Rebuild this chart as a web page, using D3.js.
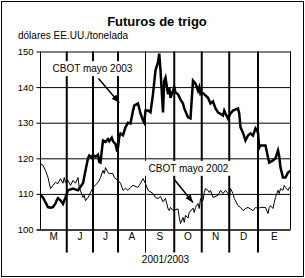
<!DOCTYPE html>
<html lang="es">
<head>
<meta charset="UTF-8">
<title>Futuros de trigo</title>
<script src="https://d3js.org/d3.v7.min.js"></script>
<style>
    body { margin: 0; padding: 0; background: #fff; }
    svg text { font-family: Arial, "Liberation Sans", sans-serif; fill: #000; }
</style>
</head>
<body>
<svg id="chart"></svg>
<script>
// eje y (dólares por tonelada)
const yTicks = [100, 110, 120, 130, 140, 150];

// meses, mayo 2002 - enero 2003; inicio de cada mes en días de operación
const months = ["M", "J", "J", "A", "S", "O", "N", "D", "E"];
const monthStarts = [0, 21, 42, 62, 84, 107, 129, 151, 174, 200];

// CBOT mayo 2003 (línea gruesa)
const days2003 = [0, 2, 4, 6, 8, 10, 12, 13, 14, 16, 18, 20, 21, 22, 26, 30, 32, 34, 36, 38,
    39, 41, 42, 44, 46, 47, 48, 49, 50, 52, 54, 55, 57, 58, 60, 61, 62, 63, 64, 66,
    68, 70, 72, 74, 75, 78, 80, 82, 83, 84, 86, 88, 90, 92, 94, 95, 96, 98, 99, 100,
    102, 103, 104, 106, 107, 108, 110, 112, 114, 115, 118, 120, 122, 124, 126, 127, 128, 130, 134, 136,
    138, 140, 142, 146, 147, 148, 150, 152, 154, 158, 159, 160, 162, 164, 166, 168, 170, 172, 174, 175,
    176, 180, 182, 183, 186, 188, 190, 191, 192, 194, 196, 198, 200];
const vals2003 = [109.6, 109, 107.6, 106.3, 106.1, 106.3, 107.3, 108.2, 108.8, 108.2, 107.2, 109, 110, 111, 111.5, 111, 112, 113, 116.6, 120,
    120.8, 120.2, 121, 120.4, 121, 119, 118.8, 122, 125, 124.6, 125.4, 124.8, 125.8, 124.8, 124, 122.5, 123, 126, 127, 126.5,
    128.7, 130, 129.8, 133.4, 134.8, 135.4, 132.6, 130.6, 130, 133.4, 133.4, 132.9, 138, 144.7, 147, 149.4, 144.7, 132.9, 141.8, 142.7,
    138, 140, 137, 139, 140, 138.5, 138, 136.5, 135.4, 134, 131.5, 131.2, 141.8, 141, 139, 140, 138, 138.3, 137, 135.4,
    136, 134, 132.9, 132, 133.4, 132.6, 131.2, 132.6, 133.4, 134, 132.6, 128.7, 127.2, 125, 126.4, 127, 126.4, 128.4, 127.2, 123,
    123.6, 123.6, 120.2, 118.8, 119.4, 120, 122.2, 120.5, 117.4, 114.6, 114.6, 116, 116.5];

// CBOT mayo 2002 (línea fina)
const days2002 = [0, 2, 4, 6, 7, 8, 10, 12, 14, 16, 18, 19, 20, 22, 24, 26, 28, 30, 31, 34,
    35, 36, 38, 39, 40, 42, 46, 48, 50, 51, 52, 54, 55, 58, 59, 62, 64, 66, 68, 70,
    72, 74, 78, 80, 82, 84, 86, 90, 92, 94, 96, 98, 100, 102, 103, 104, 106, 110, 111, 112,
    114, 115, 116, 118, 119, 122, 123, 124, 126, 127, 128, 130, 131, 132, 134, 135, 136, 138, 142, 144,
    146, 148, 150, 151, 152, 154, 155, 158, 160, 162, 164, 166, 170, 172, 174, 176, 180, 182, 183, 184,
    186, 187, 188, 190, 191, 192, 194, 195, 196, 198, 199, 200];
const vals2002 = [118.5, 118, 116.6, 114.6, 113, 111.5, 112.4, 113.2, 112.9, 114.3, 113, 114.6, 113.2, 113.8, 112.4, 113.8, 113, 114.6, 111.8, 109,
    109.6, 108.1, 109, 109.6, 110.4, 111.8, 113.2, 114.6, 116.6, 115.7, 117.4, 116, 115.7, 115.7, 114.6, 113.8, 113, 111, 111.6, 111,
    111.8, 112.4, 111.8, 113, 114.3, 112.9, 111, 110.1, 109, 108.7, 109.3, 107.8, 108.7, 105.9, 105.3, 106.2, 105.3, 105.8, 103.4, 101.7,
    103.4, 102, 104, 103.2, 104.8, 106, 104.8, 106.2, 107.3, 105.9, 108.7, 108.1, 110.4, 111.5, 111, 110.4, 111, 109, 109.6, 111,
    110.1, 111, 110.1, 108.7, 111.5, 110.1, 108.7, 106.7, 106.2, 105.3, 105.9, 106.2, 105.3, 106.2, 105.9, 106.2, 106.2, 104.5, 106.2, 106.7,
    105.9, 107.6, 109, 111, 110.1, 111.5, 111, 112.4, 111.8, 111, 111.8, 111.5];

const W = 305, H = 278;
const svg = d3.select("#chart").attr("width", W).attr("height", H);

const x = d3.scaleLinear().domain([0, 200]).range([40.5, 290.5]);
const y = d3.scaleLinear().domain([100, 150]).range([229.5, 51.5]);

// marco exterior
svg.append("rect")
    .attr("x", 1.5).attr("y", 1.5)
    .attr("width", 302).attr("height", 275)
    .attr("fill", "none").attr("stroke", "#000");

// títulos
svg.append("text")
    .attr("x", 157).attr("y", 26)
    .attr("text-anchor", "middle")
    .style("font-size", "13px").style("font-weight", "bold")
    .text("Futuros de trigo");
svg.append("text")
    .attr("x", 18).attr("y", 39)
    .style("font-size", "10px")
    .text("dólares EE.UU./tonelada");

// líneas horizontales + etiquetas
const yAxis = d3.axisLeft(y).tickValues(yTicks).tickSize(-(x.range()[1] - x.range()[0])).tickPadding(7);
const gy = svg.append("g")
    .attr("transform", `translate(${x.range()[0]},0)`)
    .call(yAxis);
gy.select(".domain").remove();
gy.selectAll(".tick line").attr("stroke", "#000").attr("x1", -4);
gy.selectAll(".tick text").style("font-size", "9.5px").attr("font-family", null);
gy.selectAll(".tick").filter(d => d === 100).select("line")
    .attr("stroke-width", 1.5);

// bordes verticales del área
svg.append("line")
    .attr("x1", x(0)).attr("x2", x(0)).attr("y1", y(150)).attr("y2", y(100))
    .attr("stroke", "#000");
svg.append("line")
    .attr("x1", x(200)).attr("x2", x(200)).attr("y1", y(150)).attr("y2", y(100))
    .attr("stroke", "#000");

// separadores de meses
const sep = monthStarts.slice(1, -1);
svg.selectAll(".sep")
    .data(sep)
    .join("line")
    .attr("class", "sep")
    .attr("x1", d => x(d)).attr("x2", d => x(d))
    .attr("y1", y(150)).attr("y2", y(100) + 23)
    .attr("stroke", "#000")
    .attr("stroke-width", (d, i) => i === 3 ? 1 : 2);

// etiquetas de meses
svg.selectAll(".mes")
    .data(months)
    .join("text")
    .attr("class", "mes")
    .attr("x", (d, i) => (x(monthStarts[i]) + x(monthStarts[i + 1])) / 2)
    .attr("y", 240)
    .attr("text-anchor", "middle")
    .style("font-size", "10px")
    .text(d => d);

svg.append("text")
    .attr("x", (x(0) + x(200)) / 2).attr("y", 263)
    .attr("text-anchor", "middle")
    .style("font-size", "10px")
    .text("2001/2003");

// cuadros de texto con fondo blanco
function etiqueta(tx, ty, txt) {
    const g = svg.append("g");
    const t = g.append("text")
        .attr("x", tx).attr("y", ty)
        .style("font-size", "10px")
        .text(txt);
    const b = t.node().getBBox();
    g.insert("rect", "text")
        .attr("x", b.x - 4).attr("y", b.y - 2)
        .attr("width", b.width + 8).attr("height", b.height + 4)
        .attr("fill", "#fff");
}
etiqueta(x(9.6), y(144.2), "CBOT mayo 2003");
etiqueta(x(86.4), y(116.2), "CBOT mayo 2002");

// series
const line = d3.line().x(d => x(d[0])).y(d => y(d[1]));
svg.append("path")
    .datum(d3.zip(days2002, vals2002))
    .attr("fill", "none").attr("stroke", "#000").attr("stroke-width", 1)
    .attr("d", line);
svg.append("path")
    .datum(d3.zip(days2003, vals2003))
    .attr("fill", "none").attr("stroke", "#000").attr("stroke-width", 2.5)
    .attr("stroke-linejoin", "miter")
    .attr("d", line);

// flechas
svg.append("defs").append("marker")
    .attr("id", "punta")
    .attr("markerUnits", "userSpaceOnUse")
    .attr("viewBox", "0 0 10 8")
    .attr("refX", 10).attr("refY", 4)
    .attr("markerWidth", 8).attr("markerHeight", 7)
    .attr("orient", "auto")
    .append("path").attr("d", "M0,0L10,4L0,8Z").attr("fill", "#000");

svg.append("line")
    .attr("x1", x(46.4)).attr("y1", y(142.4))
    .attr("x2", x(63)).attr("y2", y(135.6))
    .attr("stroke", "#000").attr("stroke-width", 1.5)
    .attr("marker-end", "url(#punta)");
svg.append("line")
    .attr("x1", x(107.2)).attr("y1", y(114))
    .attr("x2", x(122)).attr("y2", y(107.6))
    .attr("stroke", "#000").attr("stroke-width", 1.5)
    .attr("marker-end", "url(#punta)");
</script>
</body>
</html>
